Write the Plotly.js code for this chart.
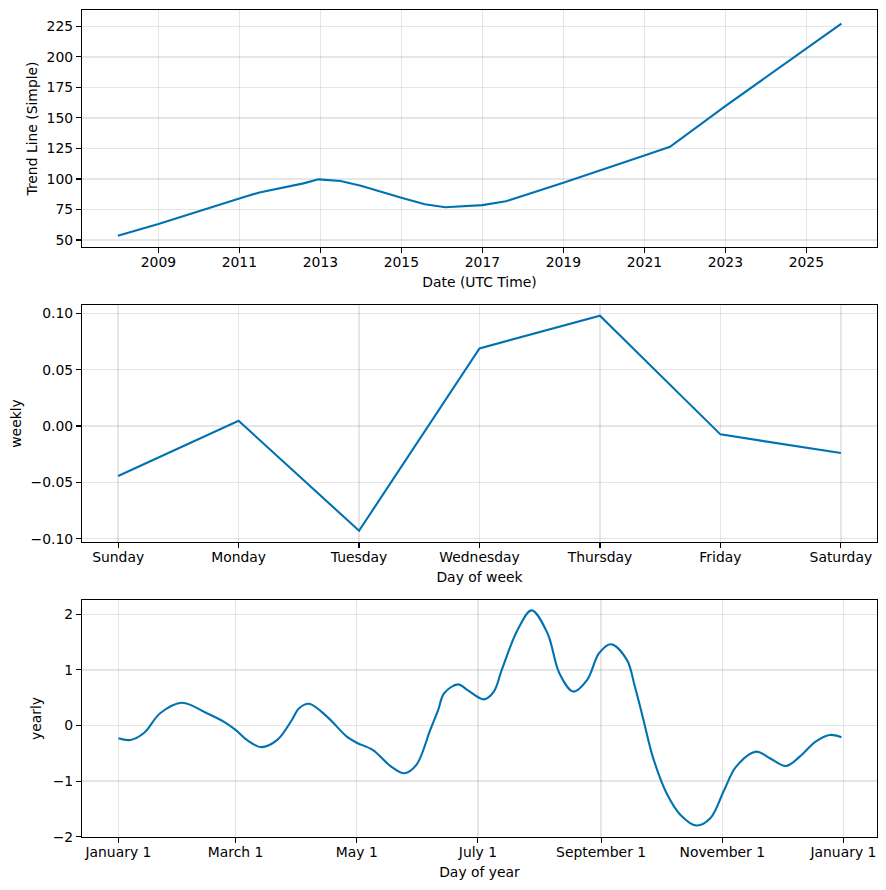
<!DOCTYPE html>
<html>
<head>
<meta charset="utf-8">
<script src="https://cdn.plot.ly/plotly-3.0.1.min.js"></script>
<style>html,body{margin:0;padding:0;background:#fff}#chart{width:886px;height:890px}</style>
</head>
<body>
<div id="chart"></div>
<script>
// ---- Trend component ----
const trendDates = ["2008-01-01","2009-01-01","2011-01-01","2011-07-01","2012-08-01","2012-12-15","2013-07-01","2014-01-01","2015-01-01","2015-08-01","2016-02-01","2017-01-01","2017-08-01","2019-01-01","2021-01-01","2021-08-20","2023-01-01","2025-01-01","2025-11-13"];
const trendValues = [53.5,63.1,84.1,89.0,96.4,99.7,98.3,94.5,84.7,79.3,76.8,78.6,81.7,96.9,119.3,126.4,159.7,207.3,227.3];
const trendLower = [53.5,63.1,84.1,89.0,96.4,99.7,98.3,94.5,84.7,79.3,76.8,78.6,81.7,96.9,119.3,126.4,159.6,206.9,226.3];
const trendUpper = [53.5,63.1,84.1,89.0,96.4,99.7,98.3,94.5,84.7,79.3,76.8,78.6,81.7,96.9,119.3,126.4,159.8,207.7,228.2];

// ---- Weekly component ----
const weekDays = ["Sunday","Monday","Tuesday","Wednesday","Thursday","Friday","Saturday"];
const weeklyValues = [-0.0444,0.0047,-0.0929,0.0689,0.0979,-0.0074,-0.0240];

// ---- Yearly component ----
const yearDates = ["2017-01-01","2017-01-07","2017-01-14","2017-01-22","2017-02-02","2017-02-14","2017-02-23","2017-03-01","2017-03-07","2017-03-14","2017-03-22","2017-03-29","2017-04-02","2017-04-07","2017-04-16","2017-04-26","2017-05-01","2017-05-09","2017-05-18","2017-05-25","2017-05-31","2017-06-07","2017-06-11","2017-06-14","2017-06-21","2017-06-26","2017-07-04","2017-07-09","2017-07-13","2017-07-21","2017-07-28","2017-08-05","2017-08-11","2017-08-18","2017-08-25","2017-08-31","2017-09-06","2017-09-14","2017-09-18","2017-09-22","2017-09-27","2017-10-04","2017-10-11","2017-10-19","2017-10-26","2017-11-02","2017-11-08","2017-11-18","2017-11-25","2017-12-03","2017-12-10","2017-12-18","2017-12-25","2017-12-31"];
const yearlyValues = [-0.23,-0.26,-0.13,0.22,0.41,0.23,0.07,-0.08,-0.27,-0.39,-0.26,0.08,0.31,0.39,0.16,-0.20,-0.31,-0.44,-0.73,-0.86,-0.71,-0.08,0.28,0.58,0.74,0.63,0.47,0.61,1.00,1.72,2.07,1.66,0.94,0.61,0.82,1.30,1.46,1.18,0.70,0.15,-0.56,-1.22,-1.61,-1.80,-1.67,-1.16,-0.74,-0.47,-0.59,-0.73,-0.56,-0.29,-0.17,-0.21];

const BLUE = "#0072B2";
const FONT = {family: "DejaVu Sans, sans-serif", size: 13.9, color: "#000"};
const W = 886, H = 890;

function xd(l, r){ return [l/W, r/W]; }
function yd(t, b){ return [1 - b/H, 1 - t/H]; }

const common = {
  showline: true, mirror: true, linecolor: "#000", linewidth: 1.1,
  ticks: "outside", ticklen: 5, tickwidth: 1.1, tickcolor: "#000",
  showgrid: true, gridcolor: "rgba(128,128,128,0.2)", gridwidth: 1.4,
  zeroline: false, tickfont: FONT
};
const xcommon = Object.assign({}, common, {ticklabelstandoff: -3});

const traces = [
  {x: trendDates, y: trendUpper, mode: "lines", line: {width: 0, color: BLUE}, xaxis: "x", yaxis: "y", hoverinfo: "skip", showlegend: false},
  {x: trendDates, y: trendLower, mode: "lines", line: {width: 0, color: BLUE}, fill: "tonexty", fillcolor: "rgba(0,114,178,0.2)", xaxis: "x", yaxis: "y", hoverinfo: "skip", showlegend: false},
  {x: trendDates, y: trendValues, mode: "lines", line: {color: BLUE, width: 2.1}, xaxis: "x", yaxis: "y", showlegend: false},
  {x: weekDays, y: weeklyValues, mode: "lines", line: {color: BLUE, width: 2.1}, xaxis: "x2", yaxis: "y2", showlegend: false},
  {x: yearDates, y: yearlyValues, mode: "lines", line: {color: BLUE, width: 2.1, shape: "spline", smoothing: 1}, xaxis: "x3", yaxis: "y3", showlegend: false}
];

const layout = {
  width: W, height: H,
  margin: {l: 0, r: 0, t: 0, b: 0},
  paper_bgcolor: "#fff", plot_bgcolor: "#fff",
  font: FONT,
  showlegend: false,
  xaxis: Object.assign({}, xcommon, {
    domain: xd(82, 877), anchor: "y", type: "date",
    range: ["2007-02-12", "2026-09-30"],
    tick0: "2009-01-01", dtick: "M24", tickformat: "%Y",
    title: {text: "Date (UTC Time)", font: FONT, standoff: 8}
  }),
  yaxis: Object.assign({}, common, {
    domain: yd(10, 247), anchor: "x",
    range: [44.3, 238.4], tick0: 0, dtick: 25,
    title: {text: "Trend Line (Simple)", font: FONT, standoff: 5}
  }),
  xaxis2: Object.assign({}, xcommon, {
    domain: xd(82, 877), anchor: "y2", type: "category",
    range: [-0.3, 6.3],
    title: {text: "Day of week", font: FONT, standoff: 8}
  }),
  yaxis2: Object.assign({}, common, {
    domain: yd(305, 542), anchor: "x2",
    range: [-0.1029, 0.1074], tick0: 0, dtick: 0.05, tickformat: ".2f",
    title: {text: "weekly", font: FONT, standoff: 5}
  }),
  xaxis3: Object.assign({}, xcommon, {
    domain: xd(82, 877), anchor: "y3", type: "date",
    range: ["2016-12-13 16:00", "2018-01-17 22:00"],
    tickvals: ["2017-01-01","2017-03-01","2017-05-01","2017-07-01","2017-09-01","2017-11-01","2018-01-01"],
    ticktext: ["January 1","March 1","May 1","July 1","September 1","November 1","January 1"],
    title: {text: "Day of year", font: FONT, standoff: 8}
  }),
  yaxis3: Object.assign({}, common, {
    domain: yd(600, 837), anchor: "x3",
    range: [-2.006, 2.257], tick0: 0, dtick: 1,
    title: {text: "yearly", font: FONT, standoff: 7}
  })
};

Plotly.newPlot("chart", traces, layout, {displayModeBar: false, staticPlot: true});
</script>
</body>
</html>
